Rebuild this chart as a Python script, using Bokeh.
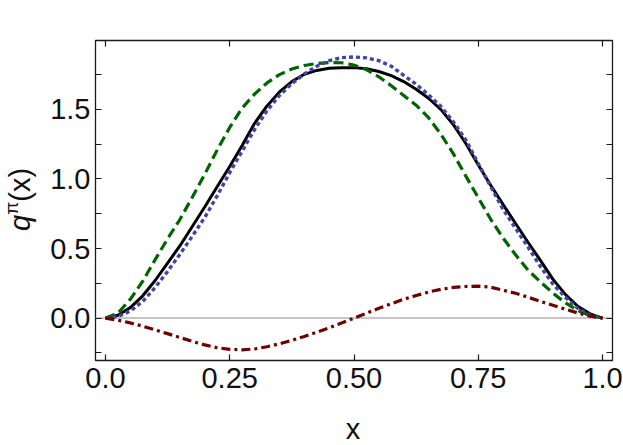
import math
from bokeh.plotting import figure
from bokeh.layouts import row, column
from bokeh.models import FixedTicker, Span, LinearAxis, Range1d, Div
from bokeh.embed import file_html
from bokeh.resources import INLINE

# ---- data ----
x = [0.000, 0.025, 0.050, 0.075, 0.100, 0.125, 0.150, 0.175, 0.200, 0.225,
     0.250, 0.275, 0.300, 0.325, 0.350, 0.375, 0.400, 0.425, 0.450, 0.475,
     0.500, 0.525, 0.550, 0.575, 0.600, 0.625, 0.650, 0.675, 0.700, 0.725,
     0.750, 0.775, 0.800, 0.825, 0.850, 0.875, 0.900, 0.925, 0.950, 0.975,
     1.000]

q_black = [0.0, 0.02, 0.075, 0.16, 0.27, 0.395, 0.52, 0.66, 0.80, 0.945,
           1.09, 1.24, 1.40, 1.525, 1.625, 1.70, 1.752, 1.78, 1.795, 1.80,
           1.80, 1.792, 1.772, 1.742, 1.70, 1.645, 1.58, 1.498, 1.39, 1.255,
           1.10, 0.955, 0.815, 0.68, 0.545, 0.415, 0.28, 0.17, 0.085, 0.03,
           0.0]

q_green = [0.0, 0.035, 0.135, 0.265, 0.42, 0.57, 0.71, 0.87, 1.035, 1.21,
           1.37, 1.51, 1.61, 1.69, 1.75, 1.79, 1.815, 1.83, 1.837, 1.835,
           1.818, 1.785, 1.734, 1.67, 1.60, 1.53, 1.44, 1.32, 1.18, 1.02,
           0.865, 0.71, 0.575, 0.455, 0.345, 0.26, 0.18, 0.11, 0.055, 0.018,
           0.0]

q_blue = [0.0, 0.012, 0.05, 0.12, 0.22, 0.335, 0.46, 0.59, 0.725, 0.88,
          1.045, 1.20, 1.355, 1.49, 1.60, 1.685, 1.755, 1.81, 1.85, 1.872,
          1.877, 1.87, 1.85, 1.81, 1.745, 1.68, 1.605, 1.52, 1.41, 1.28,
          1.11, 0.945, 0.78, 0.645, 0.51, 0.37, 0.245, 0.15, 0.07, 0.02,
          0.0]

q_red = [0.0, -0.015, -0.035, -0.058, -0.085, -0.112, -0.14, -0.168, -0.193, -0.213,
         -0.225, -0.228, -0.222, -0.206, -0.185, -0.16, -0.132, -0.102, -0.07, -0.035,
         0.0, 0.035, 0.07, 0.103, 0.135, 0.162, 0.187, 0.207, 0.22, 0.227,
         0.229, 0.222, 0.20, 0.178, 0.15, 0.12, 0.092, 0.064, 0.037, 0.014,
         0.0]

xtick_vals = [0.0, 0.25, 0.5, 0.75, 1.0]
xtick_labels = ["0.0", "0.25", "0.50", "0.75", "1.0"]
ytick_vals = [0.0, 0.5, 1.0, 1.5]
ytick_labels = ["0.0", "0.5", "1.0", "1.5"]
ytick_minor = [-0.25, 0.25, 0.75, 1.25, 1.75]

ylabel_parts = ["q", "π", "(x)"]
xlabel = "x"

FONT = "Liberation Sans"
FS = "29px"
INK = "#111111"
W, H = 623, 445
LW = 40    # width of the strip holding the y label
XH = 33    # height of the strip holding the x label
PH = H - XH

# ---------- main plot ----------
p = figure(width=W - LW, height=PH, output_backend="svg", toolbar_location=None,
           x_range=Range1d(-0.02, 1.02), y_range=Range1d(-0.305, 1.995),
           min_border_left=95 - LW, min_border_right=11, min_border_top=40,
           min_border_bottom=PH - 360)
p.background_fill_color = "white"
p.border_fill_color = "white"
p.grid.visible = False
p.outline_line_color = "#1a1a1a"
p.outline_line_width = 1.3

def style(ax):
    ax.axis_line_color = None
    ax.major_tick_in = 6
    ax.major_tick_out = 0
    ax.minor_tick_in = 6
    ax.minor_tick_out = 0
    ax.major_tick_line_color = "#1a1a1a"
    ax.minor_tick_line_color = "#1a1a1a"
    ax.major_tick_line_width = 1.2
    ax.minor_tick_line_width = 1.2
    ax.major_label_text_font = FONT
    ax.major_label_text_font_size = FS
    ax.major_label_text_color = INK

xa = p.xaxis[0]
xa.ticker = FixedTicker(ticks=xtick_vals, minor_ticks=[])
style(xa)
xa.major_label_overrides = {v: s for v, s in zip(xtick_vals, xtick_labels)}
xa.major_label_standoff = 7

ya = p.yaxis[0]
ya.ticker = FixedTicker(ticks=ytick_vals, minor_ticks=ytick_minor)
style(ya)
ya.major_label_overrides = {v: s for v, s in zip(ytick_vals, ytick_labels)}
ya.major_label_standoff = 5

top = LinearAxis(ticker=FixedTicker(ticks=xtick_vals, minor_ticks=[]))
style(top)
top.major_label_text_color = None
top.major_label_text_font_size = "1px"
top.major_label_standoff = 0
p.add_layout(top, "above")

right = LinearAxis(ticker=FixedTicker(ticks=ytick_vals, minor_ticks=ytick_minor))
style(right)
right.major_label_text_color = None
right.major_label_text_font_size = "1px"
right.major_label_standoff = 0
p.add_layout(right, "right")

p.add_layout(Span(location=0, dimension="width", line_color="#b3b3b3",
                  line_width=1.5, level="underlay"))

p.line(x, q_black, line_color="black", line_width=3)
p.line(x, q_green, line_color="#006400", line_width=3.2, line_dash="10 5")
p.line(x, q_blue, line_color="#4343a6", line_width=3.4, line_dash="4 3")
p.line(x, q_red, line_color="#6e0000", line_width=3.2, line_dash="9 4 3 4")

# ---------- strip with the rotated y label  q^pi(x) ----------
ylabel_html = (
    '<div style="position:absolute; left:6px; top:231px; '
    'transform-origin:0 0; transform:rotate(-90deg); white-space:nowrap; '
    "font-family:'Liberation Sans'; font-size:29px; line-height:29px; "
    'color:%s;">'
    '<i>%s</i><span style="font-size:19px; position:relative; top:-12px;">%s</span>%s'
    '</div>' % (INK, ylabel_parts[0], ylabel_parts[1], ylabel_parts[2])
)
ylab = Div(text=ylabel_html, width=LW, height=PH, margin=(0, 0, 0, 0),
           styles={"overflow": "visible"})

# ---------- strip with the x label ----------
xlabel_html = (
    '<div style="position:absolute; left:353px; top:5px; '
    'transform:translateX(-50%%); white-space:nowrap; '
    "font-family:'Liberation Sans'; font-size:29px; line-height:24px; "
    'color:%s;">%s</div>' % (INK, xlabel)
)
xlab = Div(text=xlabel_html, width=W, height=XH, margin=(0, 0, 0, 0),
           styles={"overflow": "visible"})

layout = column(row(ylab, p, spacing=0), xlab, spacing=0)
open("out.html", "w").write(file_html(layout, INLINE))
